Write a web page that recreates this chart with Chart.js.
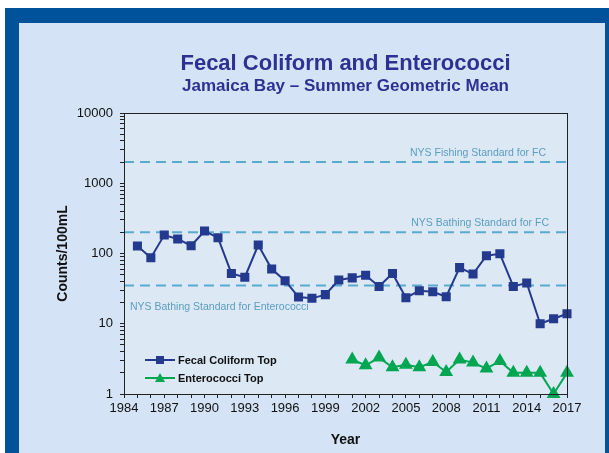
<!DOCTYPE html>
<html>
<head>
<meta charset="utf-8">
<script src="https://cdn.jsdelivr.net/npm/chart.js@4"></script>
<style>
  html, body { margin: 0; padding: 0; background: #fff; }
  #wrap { width: 609px; height: 453px; }
</style>
</head>
<body>
<div id="wrap"><canvas id="bayChart" width="609" height="453"></canvas></div>
<script>
// data
const fcYears = [1985, 1986, 1987, 1988, 1989, 1990, 1991, 1992, 1993, 1994, 1995, 1996, 1997, 1998, 1999, 2000,
  2001, 2002, 2003, 2004, 2005, 2006, 2007, 2008, 2009, 2010, 2011, 2012, 2013, 2014, 2015, 2016, 2017];
const fecalColiform = [128, 87, 183, 161, 129, 209, 168, 52, 46, 132, 60, 41, 24, 23, 26, 42,
  45, 49, 34, 52, 23.5, 29.5, 28.6, 24.3, 63, 51, 93, 99, 34, 38, 10, 11.8, 13.9];
const entYears = [2001, 2002, 2003, 2004, 2005, 2006, 2007, 2008, 2009, 2010, 2011, 2012, 2013, 2014, 2015, 2016, 2017];
const enterococci = [3.1, 2.56, 3.3, 2.4, 2.6, 2.4, 2.85, 2.06, 3.1, 2.8, 2.3, 2.95, 2.0, 2.0, 2.0, 1.0, 2.0];

const standardValues = [2000, 200, 35];
const standardLabels = ["NYS Fishing Standard for FC", "NYS Bathing Standard for FC", "NYS Bathing Standard for Enterococci"];

const yTicks = [1, 10, 100, 1000, 10000];
const xFirst = 1984, xLast = 2017;

const FONT = "'Liberation Sans', Arial, sans-serif";
const navy = "#233a8e";
const green = "#00a651";
const dashBlue = "#5aa9cf";

function toPoints(xs, ys) {
  return xs.map((x, i) => ({ x: x, y: ys[i] }));
}

// standard lines go across the whole axis
const standardSets = standardValues.map((v, i) => ({
  label: standardLabels[i],
  data: [{ x: xFirst, y: v }, { x: xLast, y: v }],
  borderColor: dashBlue,
  borderWidth: 2,
  borderDash: [10, 6],
  pointRadius: 0,
  isStandard: true,
  order: 5,
}));

// frame + plot background + box around plot + titles + standard labels + legend
const decor = {
  id: "decor",
  beforeDraw(chart) {
    const c = chart.ctx;
    const a = chart.chartArea;
    c.save();
    c.fillStyle = "#ffffff";
    c.fillRect(0, 0, chart.width, chart.height);
    c.fillStyle = "#00539b";
    c.fillRect(5, 8, chart.width - 5, chart.height - 8);
    c.fillStyle = "#d4e3f5";
    c.fillRect(19, 23, 586, chart.height - 23);
    c.fillStyle = "#dce8f4";
    c.fillRect(a.left, a.top, a.right - a.left, a.bottom - a.top);
    c.restore();
  },
  afterDraw(chart) {
    const c = chart.ctx;
    const a = chart.chartArea;
    const ys = chart.scales.y;
    const mid = (a.left + a.right) / 2;
    c.save();
    c.strokeStyle = "#222";
    c.lineWidth = 1;
    c.strokeRect(a.left + 0.5, a.top + 0.5, a.right - a.left, a.bottom - a.top);

    c.fillStyle = "#2e3192";
    c.textAlign = "center";
    c.textBaseline = "middle";
    c.font = "bold 22px " + FONT;
    c.fillText("Fecal Coliform and Enterococci", mid, 64);
    c.font = "bold 17px " + FONT;
    c.fillText("Jamaica Bay \u2013 Summer Geometric Mean", mid, 86);

    // standard labels
    c.fillStyle = "#5b9dc0";
    c.font = "10.5px " + FONT;
    c.textBaseline = "alphabetic";
    c.textAlign = "right";
    c.fillText(standardLabels[0], 546, ys.getPixelForValue(standardValues[0]) - 6);
    c.fillText(standardLabels[1], 549, ys.getPixelForValue(standardValues[1]) - 6);
    c.textAlign = "left";
    c.fillText(standardLabels[2], 130, ys.getPixelForValue(standardValues[2]) + 24);

    // legend inside the plot
    const items = chart.data.datasets.filter(d => !d.isStandard);
    items.forEach((d, i) => {
      const y = 360 + i * 18;
      c.strokeStyle = d.borderColor;
      c.lineWidth = 2;
      c.beginPath();
      c.moveTo(145, y);
      c.lineTo(175, y);
      c.stroke();
      c.fillStyle = d.pointBackgroundColor;
      if (d.pointStyle === "rect") {
        c.fillRect(156, y - 4, 8, 8);
      } else {
        c.beginPath();
        c.moveTo(160, y - 5);
        c.lineTo(165, y + 4);
        c.lineTo(155, y + 4);
        c.closePath();
        c.fill();
      }
      c.fillStyle = "#111";
      c.font = "bold 11px " + FONT;
      c.textBaseline = "middle";
      c.fillText(d.label, 178, y + 1);
    });
    c.restore();
  },
};

const ctx = document.getElementById("bayChart").getContext("2d");
const bayChart = new Chart(ctx, {
  type: "line",
  data: {
    datasets: [
      {
        label: "Fecal Coliform Top",
        data: toPoints(fcYears, fecalColiform),
        borderColor: navy,
        borderWidth: 2,
        pointStyle: "rect",
        pointRadius: 5,
        pointBackgroundColor: navy,
        pointBorderColor: navy,
        tension: 0,
        clip: false,
        order: 1,
      },
      {
        label: "Enterococci Top",
        data: toPoints(entYears, enterococci),
        borderColor: green,
        borderWidth: 2,
        pointStyle: "triangle",
        pointRadius: 6,
        pointBackgroundColor: green,
        pointBorderColor: green,
        tension: 0,
        clip: false,
        order: 2,
      },
      ...standardSets,
    ],
  },
  options: {
    responsive: false,
    animation: false,
    layout: { padding: { left: 55, right: 42, top: 113, bottom: 4 } },
    plugins: {
      legend: { display: false },
      tooltip: { enabled: false },
    },
    scales: {
      x: {
        type: "linear",
        min: xFirst,
        max: xLast,
        afterBuildTicks: (scale) => {
          const t = [];
          for (let v = xFirst; v <= xLast; v++) t.push({ value: v });
          scale.ticks = t;
        },
        ticks: {
          autoSkip: false,
          maxRotation: 0,
          padding: 3,
          color: "#111",
          font: { family: FONT, size: 13 },
          callback: (v) => ((v - xFirst) % 3 === 0 ? String(v) : ""),
        },
        grid: { drawOnChartArea: false, drawTicks: true, tickLength: 4, color: "#222" },
        border: { display: true, color: "#222", width: 1 },
        title: {
          display: true,
          text: "Year",
          color: "#111",
          font: { family: FONT, size: 14, weight: "bold" },
          padding: { top: 12, bottom: 0 },
        },
        afterFit: (scale) => { scale.height = 55; },
      },
      y: {
        type: "logarithmic",
        min: 1,
        max: 10000,
        afterBuildTicks: (scale) => {
          const t = [];
          for (let p = 1; p <= 1000; p *= 10) {
            for (let m = 1; m < 10; m++) t.push({ value: p * m });
          }
          t.push({ value: 10000 });
          scale.ticks = t;
        },
        ticks: {
          autoSkip: false,
          padding: 7,
          color: "#111",
          font: { family: FONT, size: 13 },
          callback: (v) => (yTicks.includes(v) ? String(v) : ""),
        },
        grid: { drawOnChartArea: false, drawTicks: true, tickLength: 4, color: "#222" },
        border: { display: true, color: "#222", width: 1 },
        title: {
          display: true,
          text: "Counts/100mL",
          color: "#111",
          font: { family: FONT, size: 14, weight: "bold" },
          padding: { top: 0, bottom: 12 },
        },
        afterFit: (scale) => { scale.width = 69; },
      },
    },
  },
  plugins: [decor],
});
</script>
</body>
</html>
